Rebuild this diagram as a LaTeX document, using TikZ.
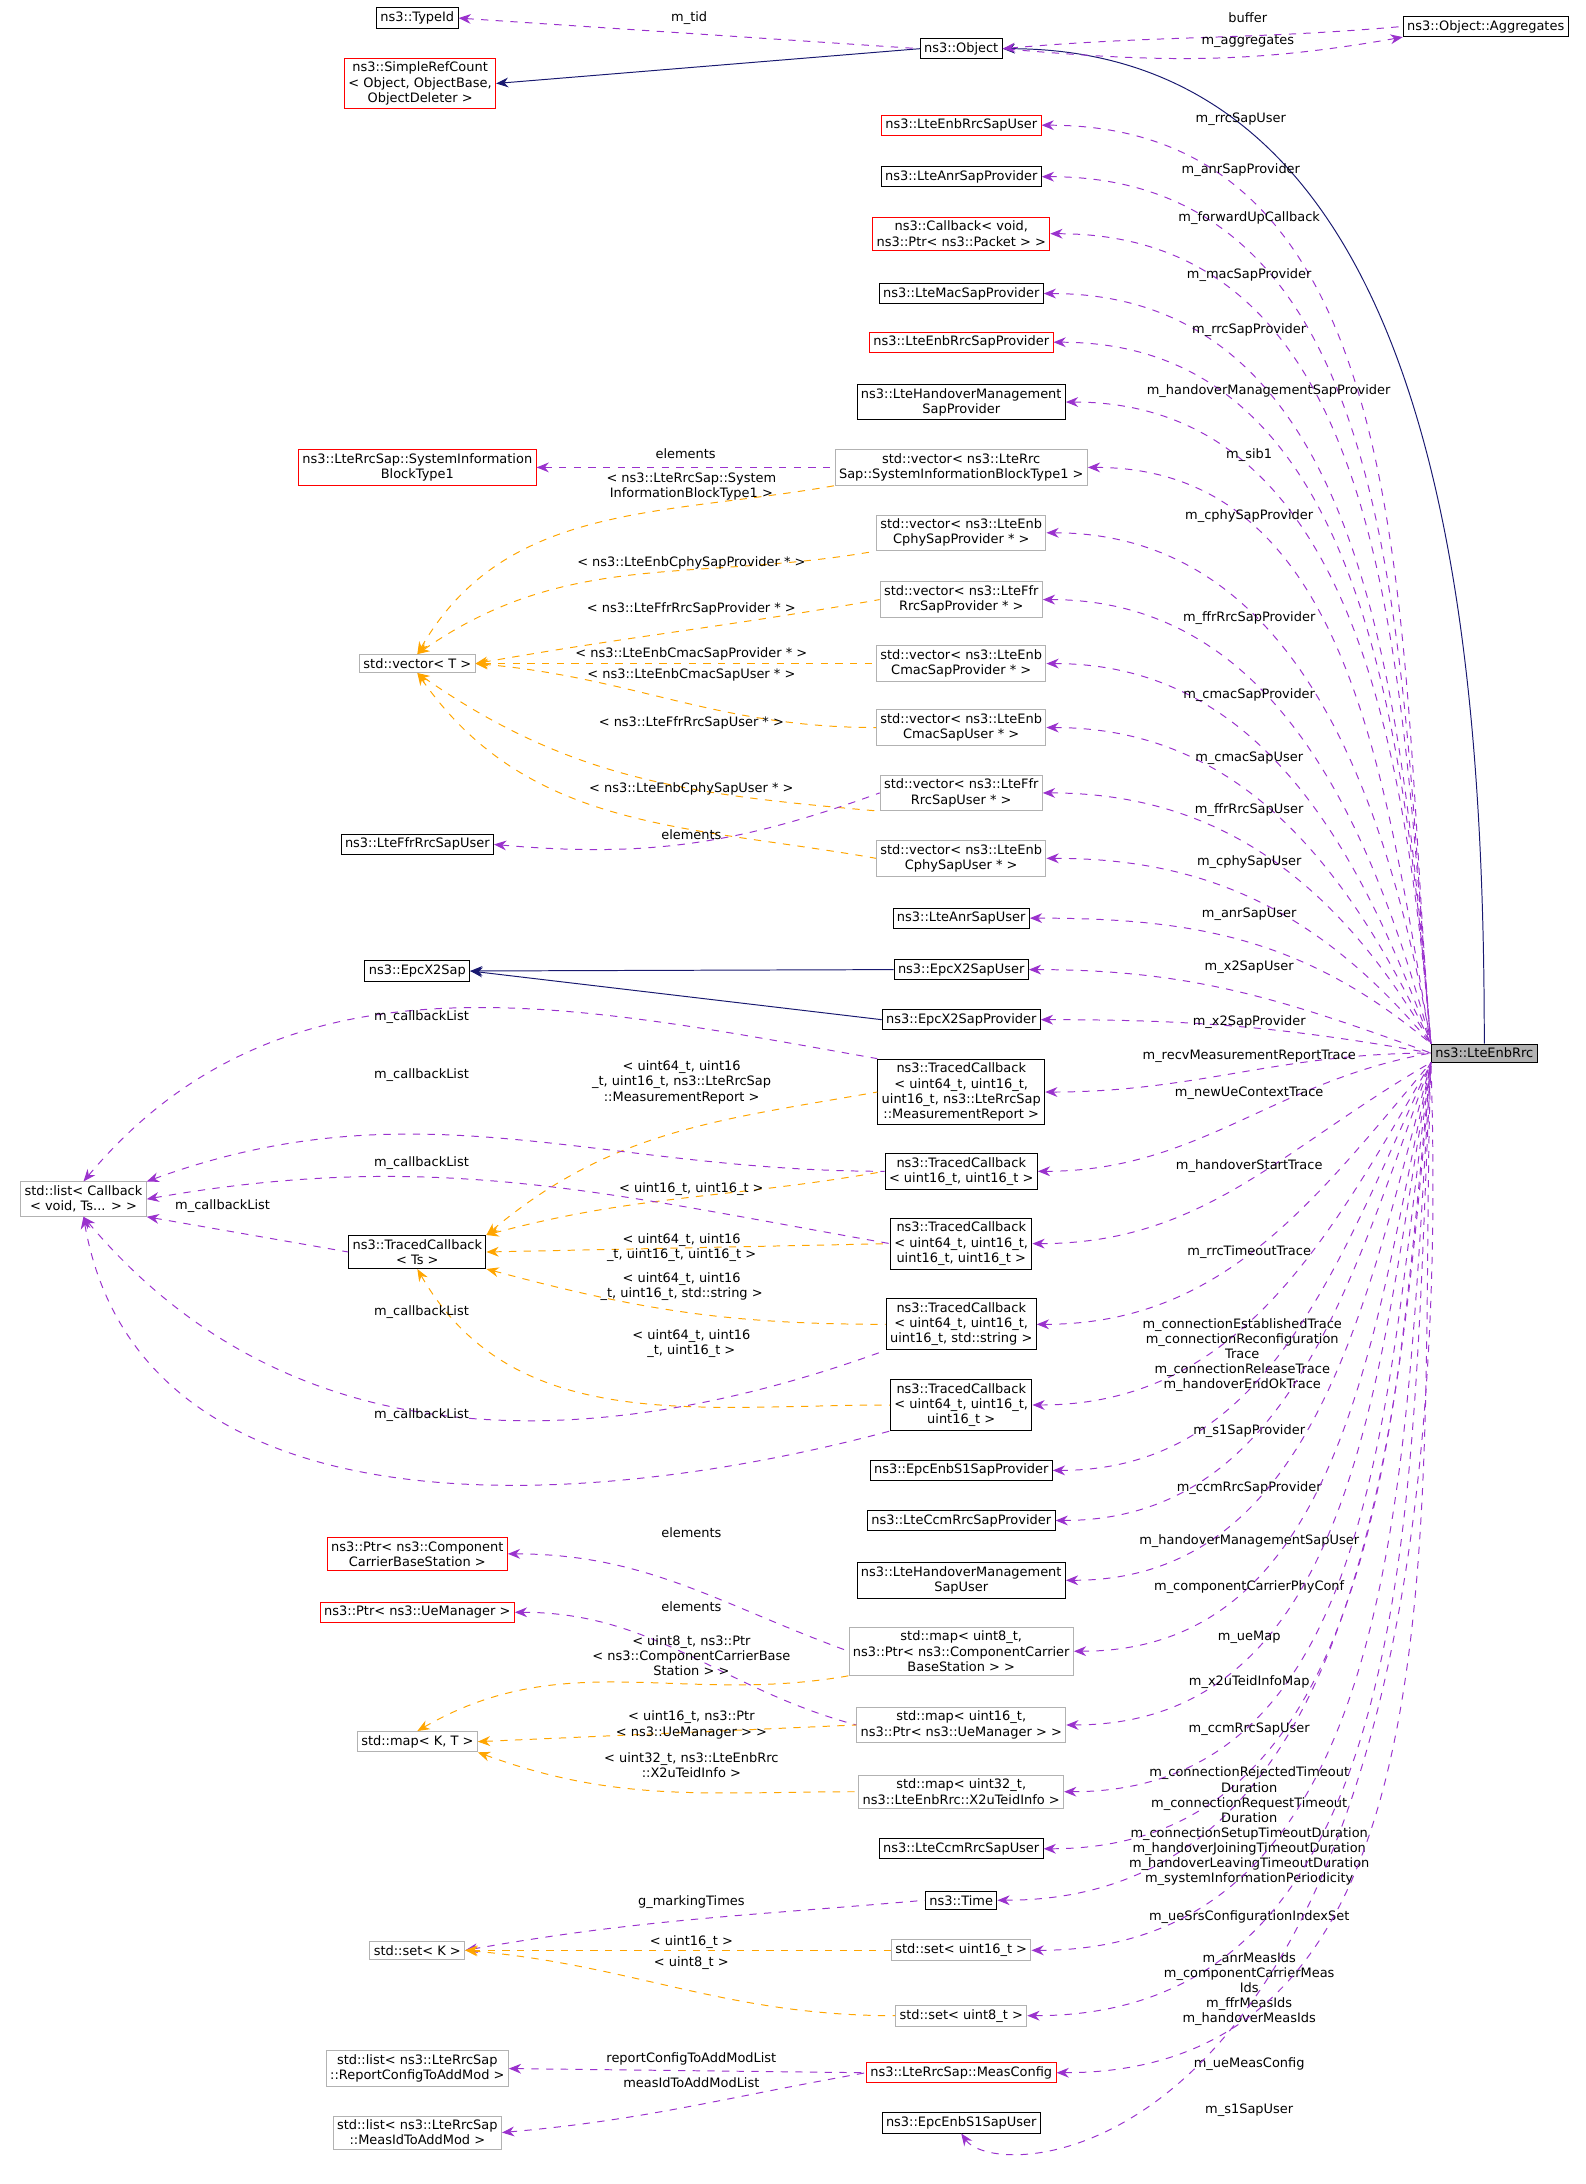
\documentclass[tikz,border=0pt]{standalone}
\usepackage{fontspec}
\setmainfont{DejaVu Sans}
\usetikzlibrary{positioning,arrows.meta}
\definecolor{memcol}{HTML}{9A32CD}
\definecolor{tplcol}{HTML}{FFA500}
\definecolor{inhcol}{HTML}{191970}
\tikzset{%
	box/.style = {draw, fill=white, inner sep=1.6pt, align=center,
		font=\fontsize{5.3}{6.2}\selectfont},
	blackbox/.style = {box, draw=black},
	redbox/.style = {box, draw=red},
	graybox/.style = {box, draw=gray!60},
	memb/.style = {draw=memcol, dashed, <-, >={Stealth[length=5pt,width=4pt]}},
	tmpl/.style = {draw=tplcol, dashed, <-, >={Stealth[length=5pt,width=4pt]}},
	inh/.style = {draw=inhcol, <-, >={Stealth[length=5pt,width=4pt]}},
	lbl/.style = {align=center, font=\fontsize{5.3}{6.2}\selectfont}
}
% member edge: target, label x, label y, label, end on rrc, in angle
\newcommand\mem[6]{\draw[memb] (#1.east) to[out=0,in=#6] (rrc.#5) node[lbl] at (#2,#3) {#4};}
\begin{document}
\begin{tikzpicture}[x=0.02cm, y=-0.02cm]
\useasboundingbox (0,0) rectangle (1140,1570);
% nodes
\node[blackbox] (typeid) at (300,13) {ns3::TypeId};
\node[redbox] (refcount) at (302,60) {ns3::SimpleRefCount\\< Object, ObjectBase,\\ ObjectDeleter >};
\node[blackbox] (obj) at (691,35) {ns3::Object};
\node[blackbox] (aggr) at (1068,19) {ns3::Object::Aggregates};
\node[box, fill=gray!60] (rrc) at (1067,757) {ns3::LteEnbRrc};
\node[redbox] (sapuser) at (691,90) {ns3::LteEnbRrcSapUser};
\node[blackbox] (anrprov) at (691,127) {ns3::LteAnrSapProvider};
\node[redbox] (fwdcb) at (691,168) {ns3::Callback< void,\\ ns3::Ptr< ns3::Packet > >};
\node[blackbox] (macprov) at (691,211) {ns3::LteMacSapProvider};
\node[redbox] (sapprov) at (691,246) {ns3::LteEnbRrcSapProvider};
\node[blackbox] (hoprov) at (691,289) {ns3::LteHandoverManagement\\SapProvider};
\node[redbox] (sibone) at (300,336) {ns3::LteRrcSap::SystemInformation\\BlockType1};
\node[graybox] (vsib) at (691,336) {std::vector< ns3::LteRrc\\Sap::SystemInformationBlockType1 >};
\node[graybox] (vcphyprov) at (691,383) {std::vector< ns3::LteEnb\\CphySapProvider * >};
\node[graybox] (vffrprov) at (691,431) {std::vector< ns3::LteFfr\\RrcSapProvider * >};
\node[graybox] (vcmacprov) at (691,477) {std::vector< ns3::LteEnb\\CmacSapProvider * >};
\node[graybox] (vcmacuser) at (691,523) {std::vector< ns3::LteEnb\\CmacSapUser * >};
\node[graybox] (vffruser) at (691,570) {std::vector< ns3::LteFfr\\RrcSapUser * >};
\node[graybox] (vcphyuser) at (691,617) {std::vector< ns3::LteEnb\\CphySapUser * >};
\node[graybox] (vect) at (300,477) {std::vector< T >};
\node[blackbox] (ffruser) at (300,607) {ns3::LteFfrRrcSapUser};
\node[blackbox] (anruser) at (691,660) {ns3::LteAnrSapUser};
\node[blackbox] (xsap) at (300,698) {ns3::EpcX2Sap};
\node[blackbox] (xuser) at (691,697) {ns3::EpcX2SapUser};
\node[blackbox] (xprov) at (691,733) {ns3::EpcX2SapProvider};
\node[blackbox] (tcmeas) at (691,785) {ns3::TracedCallback\\< uint64\_t, uint16\_t,\\ uint16\_t, ns3::LteRrcSap\\::MeasurementReport >};
\node[blackbox] (tcnew) at (691,842) {ns3::TracedCallback\\< uint16\_t, uint16\_t >};
\node[blackbox] (tcho) at (691,894) {ns3::TracedCallback\\< uint64\_t, uint16\_t,\\ uint16\_t, uint16\_t >};
\node[blackbox] (tcstr) at (691,952) {ns3::TracedCallback\\< uint64\_t, uint16\_t,\\ uint16\_t, std::string >};
\node[blackbox] (tcconn) at (691,1010) {ns3::TracedCallback\\< uint64\_t, uint16\_t,\\ uint16\_t >};
\node[blackbox] (tcts) at (300,900) {ns3::TracedCallback\\< Ts >};
\node[graybox] (cblist) at (60,862) {std::list< Callback\\< void, Ts... > >};
\node[blackbox] (sprov) at (691,1057) {ns3::EpcEnbS1SapProvider};
\node[blackbox] (ccmprov) at (691,1093) {ns3::LteCcmRrcSapProvider};
\node[blackbox] (houser) at (691,1136) {ns3::LteHandoverManagement\\SapUser};
\node[redbox] (ptrcc) at (300,1117) {ns3::Ptr< ns3::Component\\CarrierBaseStation >};
\node[redbox] (ptrue) at (300,1159) {ns3::Ptr< ns3::UeManager >};
\node[graybox] (mapcc) at (691,1187) {std::map< uint8\_t,\\ ns3::Ptr< ns3::ComponentCarrier\\BaseStation > >};
\node[graybox] (mapue) at (691,1240) {std::map< uint16\_t,\\ ns3::Ptr< ns3::UeManager > >};
\node[graybox] (mapkt) at (300,1252) {std::map< K, T >};
\node[graybox] (mapteid) at (691,1288) {std::map< uint32\_t,\\ ns3::LteEnbRrc::X2uTeidInfo >};
\node[blackbox] (ccmuser) at (691,1329) {ns3::LteCcmRrcSapUser};
\node[blackbox] (time) at (691,1366) {ns3::Time};
\node[graybox] (setk) at (300,1402) {std::set< K >};
\node[graybox] (setsixteen) at (691,1402) {std::set< uint16\_t >};
\node[graybox] (seteight) at (691,1449) {std::set< uint8\_t >};
\node[graybox] (listrep) at (300,1487) {std::list< ns3::LteRrcSap\\::ReportConfigToAddMod >};
\node[redbox] (meascfg) at (691,1490) {ns3::LteRrcSap::MeasConfig};
\node[graybox] (listmeas) at (300,1533) {std::list< ns3::LteRrcSap\\::MeasIdToAddMod >};
\node[blackbox] (suser) at (691,1526) {ns3::EpcEnbS1SapUser};

% inheritance
\draw[inh] (refcount.east) -- (obj.west);
\draw[inh] (obj.east) to[out=0,in=90] (rrc.north);
\draw[inh] (xsap.east) -- (xuser.west);
\draw[inh] (xsap.east) -- (xprov.west);

% Object members
\draw[memb] (typeid.east) -- (obj.west) node[lbl, above, midway] {m\_tid};
\draw[memb] (obj.east) to[out=5,in=185] (aggr.west) node[lbl] at (897,13) {buffer};
\draw[memb] (aggr.south west) to[out=190,in=-5] (obj.east) node[lbl] at (897,30) {m\_aggregates};

% members of LteEnbRrc
\mem{sapuser}{892}{86}{m\_rrcSapUser}{north west}{95}
\mem{anrprov}{892}{122}{m\_anrSapProvider}{north west}{95}
\mem{fwdcb}{898}{157}{m\_forwardUpCallback}{north west}{95}
\mem{macprov}{898}{198}{m\_macSapProvider}{north west}{95}
\mem{sapprov}{898}{237}{m\_rrcSapProvider}{north west}{95}
\mem{hoprov}{912}{281}{m\_handoverManagementSapProvider}{north west}{95}
\mem{vsib}{898}{327}{m\_sib1}{north west}{100}
\mem{vcphyprov}{898}{371}{m\_cphySapProvider}{north west}{100}
\mem{vffrprov}{898}{444}{m\_ffrRrcSapProvider}{north west}{105}
\mem{vcmacprov}{898}{500}{m\_cmacSapProvider}{north west}{110}
\mem{vcmacuser}{898}{545}{m\_cmacSapUser}{north west}{115}
\mem{vffruser}{898}{582}{m\_ffrRrcSapUser}{north west}{120}
\mem{vcphyuser}{898}{620}{m\_cphySapUser}{north west}{130}
\mem{anruser}{898}{657}{m\_anrSapUser}{north west}{140}
\mem{xuser}{898}{695}{m\_x2SapUser}{west}{160}
\mem{xprov}{898}{735}{m\_x2SapProvider}{west}{170}
\mem{tcmeas}{898}{759}{m\_recvMeasurementReportTrace}{west}{180}
\mem{tcnew}{898}{786}{m\_newUeContextTrace}{west}{190}
\mem{tcho}{898}{838}{m\_handoverStartTrace}{south west}{210}
\mem{tcstr}{898}{900}{m\_rrcTimeoutTrace}{south west}{230}
\mem{tcconn}{893}{974}{m\_connectionEstablishedTrace\\m\_connectionReconfiguration\\Trace\\m\_connectionReleaseTrace\\m\_handoverEndOkTrace}{south west}{240}
\mem{sprov}{898}{1029}{m\_s1SapProvider}{south west}{245}
\mem{ccmprov}{898}{1070}{m\_ccmRrcSapProvider}{south west}{250}
\mem{houser}{898}{1108}{m\_handoverManagementSapUser}{south west}{255}
\mem{mapcc}{898}{1141}{m\_componentCarrierPhyConf}{south west}{258}
\mem{mapue}{898}{1177}{m\_ueMap}{south west}{260}
\mem{mapteid}{898}{1209}{m\_x2uTeidInfoMap}{south west}{262}
\mem{ccmuser}{898}{1243}{m\_ccmRrcSapUser}{south west}{264}
\mem{time}{898}{1313}{m\_connectionRejectedTimeout\\Duration\\m\_connectionRequestTimeout\\Duration\\m\_connectionSetupTimeoutDuration\\m\_handoverJoiningTimeoutDuration\\m\_handoverLeavingTimeoutDuration\\m\_systemInformationPeriodicity}{south west}{265}
\mem{setsixteen}{898}{1378}{m\_ueSrsConfigurationIndexSet}{south west}{266}
\mem{seteight}{898}{1430}{m\_anrMeasIds\\m\_componentCarrierMeas\\Ids\\m\_ffrMeasIds\\m\_handoverMeasIds}{south west}{267}
\mem{meascfg}{898}{1484}{m\_ueMeasConfig}{south west}{268}
\draw[memb] (suser.south) .. controls (720,1575) and (1055,1560) .. (rrc.south west) node[lbl] at (898,1517) {m\_s1SapUser};

% vectors
\draw[memb] (sibone.east) -- (vsib.west) node[lbl, above, midway] {elements};
\draw[tmpl] (vect.north) to[out=60,in=190] (vsib.south west) node[lbl] at (497,350) {< ns3::LteRrcSap::System\\InformationBlockType1 >};
\draw[tmpl] (vect.north) to[out=35,in=190] (vcphyprov.south west) node[lbl] at (497,405) {< ns3::LteEnbCphySapProvider * >};
\draw[tmpl] (vect.east) to[out=10,in=190] (vffrprov.west) node[lbl] at (497,438) {< ns3::LteFfrRrcSapProvider * >};
\draw[tmpl] (vect.east) -- (vcmacprov.west) node[lbl] at (497,470) {< ns3::LteEnbCmacSapProvider * >};
\draw[tmpl] (vect.east) to[out=-5,in=180] (vcmacuser.west) node[lbl] at (497,485) {< ns3::LteEnbCmacSapUser * >};
\draw[tmpl] (vect.south) to[out=-35,in=175] (vffruser.south west) node[lbl] at (497,520) {< ns3::LteFfrRrcSapUser * >};
\draw[tmpl] (vect.south) to[out=-55,in=170] (vcphyuser.west) node[lbl] at (497,567) {< ns3::LteEnbCphySapUser * >};
\draw[memb] (ffruser.east) to[out=-5,in=200] (vffruser.west) node[lbl] at (497,600) {elements};

% traced callbacks
\draw[tmpl] (tcts.north east) to[out=40,in=190] (tcmeas.west) node[lbl] at (490,778) {< uint64\_t, uint16\\\_t, uint16\_t, ns3::LteRrcSap\\::MeasurementReport >};
\draw[tmpl] (tcts.north east) to[out=15,in=190] (tcnew.west) node[lbl] at (497,855) {< uint16\_t, uint16\_t >};
\draw[tmpl] (tcts.east) -- (tcho.west) node[lbl] at (490,897) {< uint64\_t, uint16\\\_t, uint16\_t, uint16\_t >};
\draw[tmpl] (tcts.south east) to[out=-15,in=180] (tcstr.west) node[lbl] at (490,925) {< uint64\_t, uint16\\\_t, uint16\_t, std::string >};
\draw[tmpl] (tcts.south) to[out=-60,in=180] (tcconn.west) node[lbl] at (497,966) {< uint64\_t, uint16\\\_t, uint16\_t >};
\draw[memb] (cblist.north) to[out=50,in=170] (tcmeas.north west) node[lbl] at (303,731) {m\_callbackList};
\draw[memb] (cblist.north east) to[out=20,in=180] (tcnew.west) node[lbl] at (303,773) {m\_callbackList};
\draw[memb] (cblist.east) to[out=10,in=170] (tcho.west) node[lbl] at (303,836) {m\_callbackList};
\draw[memb] (cblist.south east) -- (tcts.west) node[lbl] at (160,867) {m\_callbackList};
\draw[memb] (cblist.south) to[out=-50,in=200] (tcstr.south west) node[lbl] at (303,943) {m\_callbackList};
\draw[memb] (cblist.south) to[out=-80,in=195] (tcconn.south west) node[lbl] at (303,1017) {m\_callbackList};

% maps
\draw[memb] (ptrcc.east) to[out=0,in=160] (mapcc.west) node[lbl] at (497,1102) {elements};
\draw[memb] (ptrue.east) to[out=0,in=165] (mapue.west) node[lbl] at (497,1155) {elements};
\draw[tmpl] (mapkt.north) to[out=30,in=190] (mapcc.south west) node[lbl] at (497,1190) {< uint8\_t, ns3::Ptr\\< ns3::ComponentCarrierBase\\Station > >};
\draw[tmpl] (mapkt.east) -- (mapue.west) node[lbl] at (497,1240) {< uint16\_t, ns3::Ptr\\< ns3::UeManager > >};
\draw[tmpl] (mapkt.south east) to[out=-20,in=180] (mapteid.west) node[lbl] at (497,1269) {< uint32\_t, ns3::LteEnbRrc\\::X2uTeidInfo >};

% sets and lists
\draw[memb] (setk.east) to[out=10,in=185] (time.west) node[lbl] at (497,1367) {g\_markingTimes};
\draw[tmpl] (setk.east) -- (setsixteen.west) node[lbl] at (497,1396) {< uint16\_t >};
\draw[tmpl] (setk.east) to[out=-5,in=180] (seteight.west) node[lbl] at (497,1411) {< uint8\_t >};
\draw[memb] (listrep.east) -- (meascfg.west) node[lbl] at (497,1480) {reportConfigToAddModList};
\draw[memb] (listmeas.east) to[out=5,in=190] (meascfg.west) node[lbl] at (497,1497) {measIdToAddModList};
\end{tikzpicture}
\end{document}
